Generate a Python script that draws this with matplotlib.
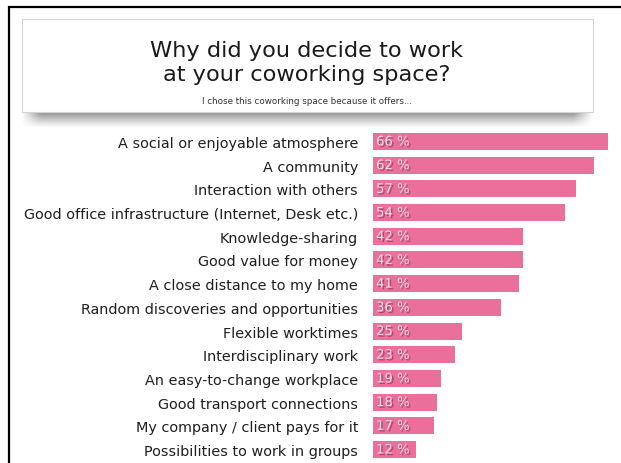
import matplotlib
matplotlib.use("Agg")
import matplotlib.pyplot as plt
import matplotlib.patheffects as pe
from matplotlib.patches import Rectangle
import numpy as np

categories = [
    "A social or enjoyable atmosphere",
    "A community",
    "Interaction with others",
    "Good office infrastructure (Internet, Desk etc.)",
    "Knowledge-sharing",
    "Good value for money",
    "A close distance to my home",
    "Random discoveries and opportunities",
    "Flexible worktimes",
    "Interdisciplinary work",
    "An easy-to-change workplace",
    "Good transport connections",
    "My company / client pays for it",
    "Possibilities to work in groups",
]
values = [66, 62, 57, 54, 42, 42, 41, 36, 25, 23, 19, 18, 17, 12]
value_labels = [f"{v} %" for v in values]

title_lines = ["Why did you decide to work", "at your coworking space?"]
subtitle = "I chose this coworking space because it offers..."

FONT = "DejaVu Sans"
BAR_COLOR = "#eb6f9b"
W, H = 621, 464

fig = plt.figure(figsize=(W / 100, H / 100), dpi=100)
fig.patch.set_facecolor("white")

# Full-figure canvas in pixel units for the frame and header card
bg = fig.add_axes([0, 0, 1, 1], zorder=0)
bg.set_xlim(0, W)
bg.set_ylim(H, 0)
bg.axis("off")

# frame (left and top edges)
bg.plot([8.5, 8.5, W + 2], [H + 2, 7.5, 7.5], color="black", lw=1.6,
        solid_joinstyle="miter")

# soft shadow under the header card
n = 16
rows = np.linspace(0, 1, n)
alpha_v = (1 - rows) ** 1.1 * 0.9
cols = np.linspace(0, 1, 200)
alpha_h = np.clip(np.minimum(cols, 1 - cols) * 30, 0, 1)
rgba = np.zeros((n, 200, 4))
rgba[..., :3] = 0.5
rgba[..., 3] = alpha_v[:, None] * alpha_h[None, :]
bg.imshow(rgba, extent=[20, 594, 129, 112], aspect="auto", zorder=1,
          interpolation="bilinear")

# header card
bg.add_patch(Rectangle((21.5, 20), 571, 93, facecolor="white",
                       edgecolor="#d4d4d4", lw=0.8, zorder=2))
bg.text(306.5, 57, title_lines[0], ha="center", va="baseline",
        fontsize=16.2, family=FONT, color="#1a1a1a", zorder=3)
bg.text(306.5, 81, title_lines[1], ha="center", va="baseline",
        fontsize=16.2, family=FONT, color="#1a1a1a", zorder=3)
bg.text(306.5, 104, subtitle, ha="center", va="baseline",
        fontsize=6.3, family=FONT, color="#333333", zorder=3)

# Bar chart
px_per_pct = 3.56
ax = fig.add_axes([373 / W, 0, (W - 373) / W, 333 / H], zorder=2)
ax.set_xlim(0, (W - 373) / px_per_pct)
ax.set_ylim(13.57, -0.485)
ax.patch.set_alpha(0)
for s in ax.spines.values():
    s.set_visible(False)

y = np.arange(len(categories))
ax.barh(y, values, height=0.72, color=BAR_COLOR, edgecolor="none")
ax.set_xticks([])
ax.set_yticks(y)
ax.set_yticklabels(categories, fontsize=10.4, family=FONT, color="#1f1f1f")
ax.tick_params(axis="y", length=0, pad=10.8)

shadow = [pe.withSimplePatchShadow(offset=(1.2, -1.2),
                                   shadow_rgbFace="#6e2a45", alpha=0.55)]
for yi, lab in zip(y, value_labels):
    ax.text(0.85, yi + 0.02, lab, ha="left", va="center", fontsize=9.5,
            family=FONT, color="#f5d9e4", path_effects=shadow)

fig.savefig("out.png", dpi=100, facecolor="white")
